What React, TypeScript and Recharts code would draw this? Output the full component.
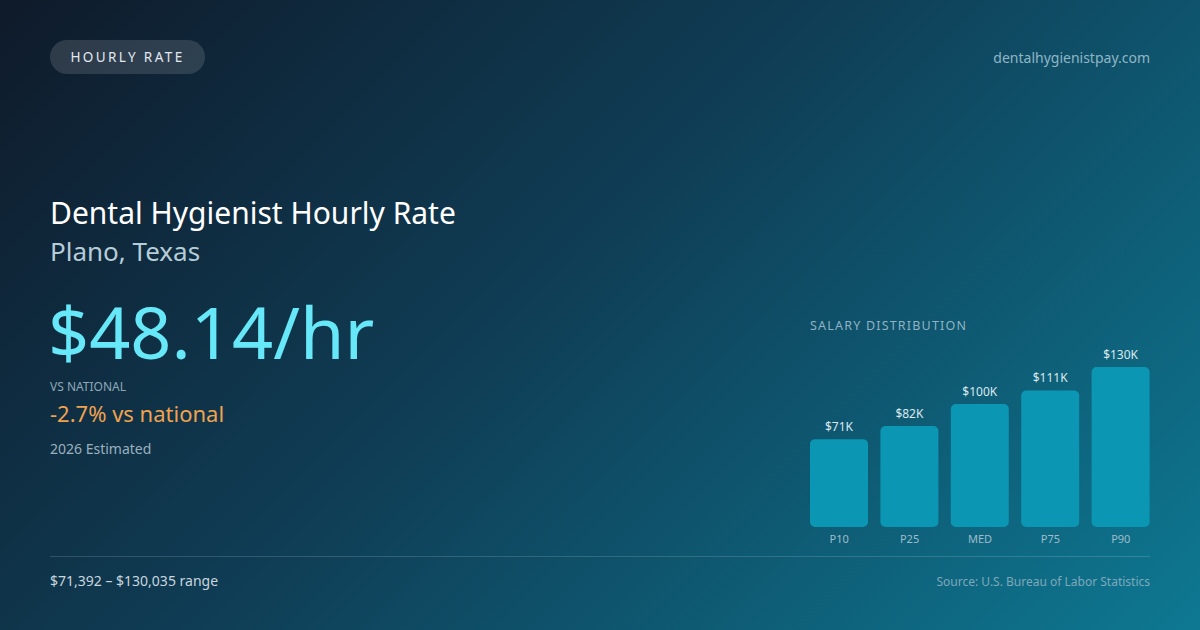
import React from "react"
import { BarChart, Bar, XAxis, YAxis, LabelList } from "recharts"

const PERCENTILES = ["P10", "P25", "MED", "P75", "P90"]
const SALARIES = [71392, 82000, 100000, 111000, 130035]
const SALARY_LABELS = ["$71K", "$82K", "$100K", "$111K", "$130K"]

const FONT = "'Noto Sans', 'Open Sans', sans-serif"

const chartData = PERCENTILES.map((p, i) => ({
  name: p,
  value: SALARIES[i],
  label: SALARY_LABELS[i],
}))

export default function App() {
  return (
    <div
      style={{
        position: "absolute",
        left: 0,
        top: 0,
        width: 1200,
        height: 630,
        overflow: "hidden",
        fontFamily: FONT,
        background: "linear-gradient(135deg, #0f1a2a 0%, #0f3d55 45%, #0e7892 100%)",
      }}
    >
      <div
        style={{
          position: "absolute",
          left: 50,
          top: 40,
          width: 155,
          height: 34,
          borderRadius: 17,
          background: "rgba(255,255,255,0.13)",
          color: "#e2e8f0",
          fontSize: 13.5,
          letterSpacing: 2.4,
          lineHeight: "34px",
          textAlign: "center",
        }}
      >
        HOURLY RATE
      </div>
      <div style={{ position: "absolute", right: 50, top: 48, fontSize: 14, color: "#8fb6c6" }}>
        dentalhygienistpay.com
      </div>

      <div style={{ position: "absolute", left: 50, top: 193, fontSize: 30, color: "#ffffff", lineHeight: "40px" }}>
        Dental Hygienist Hourly Rate
      </div>
      <div style={{ position: "absolute", left: 50, top: 234, fontSize: 26, color: "#b6ccd8", lineHeight: "34px" }}>
        Plano, Texas
      </div>
      <div
        style={{
          position: "absolute",
          left: 48,
          top: 285,
          fontSize: 72,
          color: "#67e8f9",
          lineHeight: "92px",
        }}
      >
        $48.14/hr
      </div>
      <div style={{ position: "absolute", left: 50, top: 378, fontSize: 12, color: "#8ea8b8" }}>VS NATIONAL</div>
      <div style={{ position: "absolute", left: 50, top: 398, fontSize: 22, color: "#f0a24f", lineHeight: "30px" }}>
        -2.7% vs national
      </div>
      <div style={{ position: "absolute", left: 50, top: 439, fontSize: 14, color: "#9bb0bf" }}>2026 Estimated</div>

      <div
        style={{
          position: "absolute",
          left: 810,
          top: 317,
          fontSize: 12.5,
          letterSpacing: 1.2,
          color: "#8fb3c4",
        }}
      >
        SALARY DISTRIBUTION
      </div>

      <div style={{ position: "absolute", left: 800, top: 340 }}>
        <BarChart
          width={360}
          height={215}
          data={chartData}
          barCategoryGap={6}
          margin={{ top: 27, right: 4, bottom: 0, left: 4 }}
        >
          <XAxis
            dataKey="name"
            axisLine={false}
            tickLine={false}
            height={28}
            tick={{ fontSize: 11, fill: "#9fbccb", fontFamily: FONT }}
          />
          <YAxis hide domain={[0, "dataMax"]} />
          <Bar dataKey="value" fill="#0b97b4" radius={5} isAnimationActive={false}>
            <LabelList dataKey="label" position="top" offset={8} style={{ fontSize: 12, fill: "#dbe8ef", fontFamily: FONT }} />
          </Bar>
        </BarChart>
      </div>

      <div
        style={{
          position: "absolute",
          left: 50,
          top: 556,
          width: 1100,
          height: 1,
          background: "rgba(255,255,255,0.15)",
        }}
      />
      <div style={{ position: "absolute", left: 50, top: 571, fontSize: 14, color: "#c8d6df" }}>
        $71,392 – $130,035 range
      </div>
      <div style={{ position: "absolute", right: 50, top: 573, fontSize: 12, color: "#7ea8ba" }}>
        Source: U.S. Bureau of Labor Statistics
      </div>
    </div>
  )
}
